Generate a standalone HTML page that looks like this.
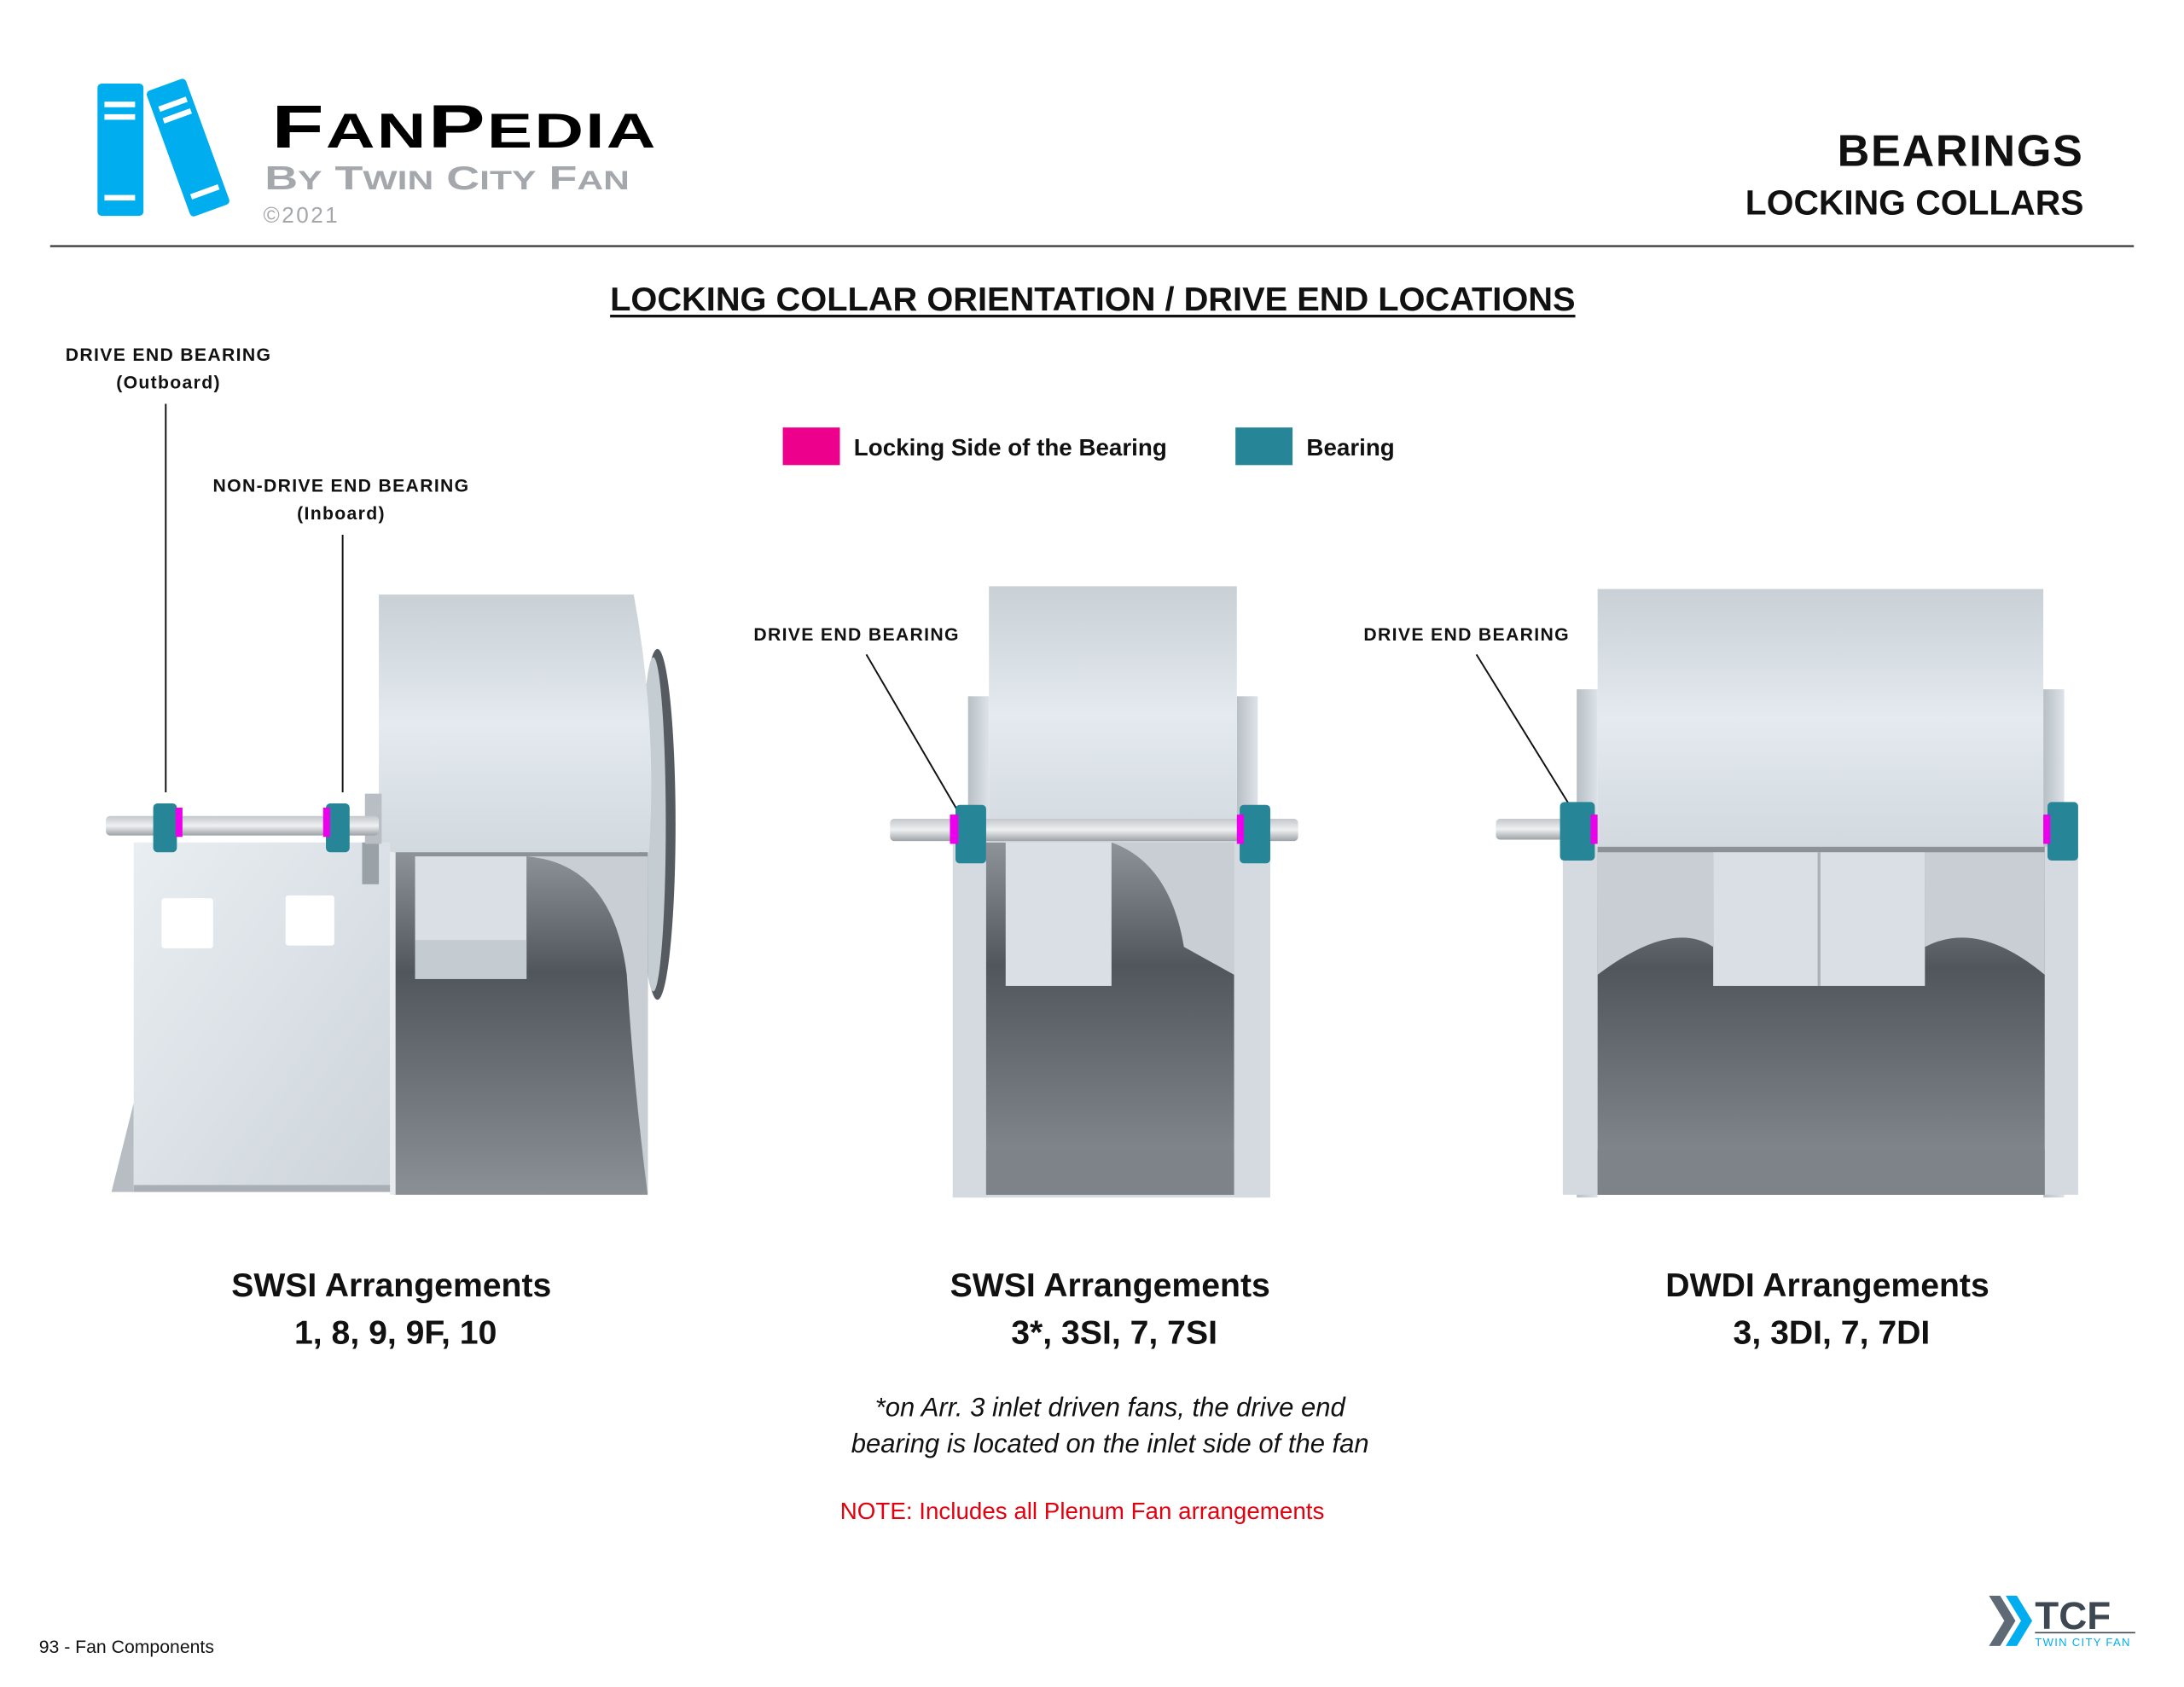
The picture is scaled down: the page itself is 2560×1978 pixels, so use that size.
<!DOCTYPE html>
<html><head><meta charset="utf-8"><style>
html,body{margin:0;padding:0;background:#fff;}
svg{display:block;}
text{font-family:"Liberation Sans",sans-serif;}
</style></head><body>
<svg width="2560" height="1978" viewBox="0 0 1568 1211.5" xmlns="http://www.w3.org/2000/svg">
<defs>
<linearGradient id="scroll" x1="0" y1="0" x2="0" y2="1"><stop offset="0" stop-color="#c9d0d6"/><stop offset="0.5" stop-color="#e4eaef"/><stop offset="1" stop-color="#d2d9df"/></linearGradient>
<linearGradient id="dark" x1="0" y1="0" x2="0" y2="1"><stop offset="0" stop-color="#8d9398"/><stop offset="0.35" stop-color="#50565b"/><stop offset="1" stop-color="#8a9095"/></linearGradient>
<linearGradient id="panel" x1="0" y1="0" x2="1" y2="1"><stop offset="0" stop-color="#e9eef2"/><stop offset="1" stop-color="#cdd4da"/></linearGradient>
<linearGradient id="shaft" x1="0" y1="0" x2="0" y2="1"><stop offset="0" stop-color="#c4c8cb"/><stop offset="0.5" stop-color="#eef0f1"/><stop offset="1" stop-color="#9da2a6"/></linearGradient>
<linearGradient id="side" x1="0" y1="0" x2="1" y2="0"><stop offset="0" stop-color="#b8bfc5"/><stop offset="1" stop-color="#dde3e8"/></linearGradient>
</defs>

<!-- Logo -->
<rect x="70" y="60" width="33" height="95" rx="3" fill="#00adee"/>
<rect x="75" y="73" width="22" height="4" fill="#fff"/><rect x="75" y="82" width="22" height="4" fill="#fff"/><rect x="75" y="140" width="22" height="4" fill="#fff"/>
<g transform="rotate(-20 135 106)">
<rect x="120" y="58" width="30" height="96" rx="3" fill="#00adee"/>
<rect x="125" y="71" width="21" height="4" fill="#fff"/><rect x="125" y="80" width="21" height="4" fill="#fff"/><rect x="125" y="138" width="21" height="4" fill="#fff"/>
</g>
<text x="195" y="106" font-size="44" font-weight="bold" fill="#000" letter-spacing="1" textLength="277" lengthAdjust="spacingAndGlyphs">F<tspan font-size="35">AN</tspan>P<tspan font-size="35">EDIA</tspan></text>
<text x="190" y="136" font-size="24" font-weight="bold" fill="#a4a7ab" textLength="262" lengthAdjust="spacingAndGlyphs">B<tspan font-size="19">Y</tspan> T<tspan font-size="19">WIN</tspan> C<tspan font-size="19">ITY</tspan> F<tspan font-size="19">AN</tspan></text>
<text x="189" y="160" font-size="16" fill="#a4a7ab" letter-spacing="1.5">©2021</text>

<text x="1496" y="119" font-size="32" font-weight="bold" text-anchor="end" fill="#111" letter-spacing="1">BEARINGS</text>
<text x="1496" y="154" font-size="25" font-weight="bold" text-anchor="end" fill="#111">LOCKING COLLARS</text>
<rect x="36" y="176" width="1496" height="1.5" fill="#444"/>

<text x="438" y="223" font-size="24" font-weight="bold" fill="#111" textLength="693" lengthAdjust="spacingAndGlyphs">LOCKING COLLAR ORIENTATION / DRIVE END LOCATIONS</text>
<rect x="438" y="226" width="693" height="2" fill="#111"/>

<!-- legend -->
<rect x="562" y="307" width="41" height="27" fill="#ec008c"/>
<text x="613" y="327" font-size="17" font-weight="bold" fill="#111">Locking Side of the Bearing</text>
<rect x="887" y="307" width="41" height="27" fill="#268596"/>
<text x="938" y="327" font-size="17" font-weight="bold" fill="#111">Bearing</text>

<!-- labels -->
<g font-size="13" font-weight="bold" fill="#111" text-anchor="middle" letter-spacing="0.8">
<text x="121" y="259">DRIVE END BEARING</text>
<text x="121" y="279">(Outboard)</text>
<text x="245" y="353">NON-DRIVE END BEARING</text>
<text x="245" y="373">(Inboard)</text>
<text x="615" y="460">DRIVE END BEARING</text>
<text x="1053" y="460">DRIVE END BEARING</text>
</g>
<line x1="119" y1="290" x2="119" y2="569" stroke="#111" stroke-width="1.2"/>
<line x1="246" y1="384" x2="246" y2="569" stroke="#111" stroke-width="1.2"/>
<line x1="622" y1="470" x2="688" y2="583" stroke="#111" stroke-width="1.2"/>
<line x1="1060" y1="470" x2="1128" y2="580" stroke="#111" stroke-width="1.2"/>

<!-- FAN 1 -->
<ellipse cx="472" cy="592" rx="13" ry="126" fill="#555b60"/>
<ellipse cx="469" cy="592" rx="9" ry="120" fill="#c5ccd2"/>
<path d="M272 427 L455 427 Q472 520 466 612 L272 612 Z" fill="url(#scroll)"/>
<rect x="283" y="612" width="182" height="246" fill="url(#dark)"/>
<path d="M378 615 Q440 620 450 700 Q455 780 465 858 L465 615 Z" fill="#c8ced3"/>
<rect x="298" y="615" width="80" height="88" fill="#d9dfe4"/>
<rect x="298" y="675" width="80" height="28" fill="#c4cbd1"/>
<rect x="280" y="612" width="4" height="246" fill="#e8ecef"/>
<polygon points="80,856 96,792 96,856" fill="#b7bdc2"/>
<rect x="96" y="605" width="184" height="251" fill="url(#panel)"/>
<rect x="96" y="851" width="184" height="5" fill="#a9afb4"/>
<rect x="116" y="645" width="37" height="36" rx="2" fill="#fff"/>
<rect x="205" y="643" width="35" height="36" rx="2" fill="#fff"/>
<rect x="260" y="605" width="12" height="30" fill="#9aa1a7"/>
<rect x="262" y="570" width="12" height="36" fill="#b8bec3"/>
<rect x="76" y="586" width="196" height="14" rx="3" fill="url(#shaft)"/>
<rect x="110" y="577" width="17" height="35" rx="3" fill="#268596"/>
<rect x="126" y="580" width="5" height="21" fill="#ec00ec"/>
<rect x="234" y="577" width="17" height="35" rx="3" fill="#268596"/>
<rect x="232" y="580" width="5" height="21" fill="#ec00ec"/>

<!-- FAN 2 -->
<rect x="695" y="500" width="15" height="360" fill="url(#side)"/>
<rect x="888" y="500" width="15" height="360" fill="url(#side)"/>
<rect x="684" y="605" width="228" height="255" fill="#d4dadf"/>
<rect x="708" y="605" width="178" height="253" fill="url(#dark)"/>
<path d="M798 605 Q840 620 850 680 L886 700 L886 605 Z" fill="#c8ced3"/>
<rect x="722" y="605" width="76" height="103" fill="#d9dfe4"/>
<rect x="708" y="826" width="178" height="32" fill="#7d8388"/>
<rect x="710" y="421" width="178" height="184" fill="url(#scroll)"/>
<rect x="639" y="588" width="293" height="16" rx="3" fill="url(#shaft)"/>
<rect x="686" y="578" width="22" height="42" rx="3" fill="#268596"/>
<rect x="682" y="585" width="6" height="21" fill="#ec00ec"/>
<rect x="890" y="578" width="22" height="42" rx="3" fill="#268596"/>
<rect x="888" y="585" width="5" height="21" fill="#ec00ec"/>

<!-- FAN 3 -->
<rect x="1132" y="495" width="15" height="365" fill="url(#side)"/>
<rect x="1467" y="495" width="15" height="365" fill="url(#side)"/>
<rect x="1122" y="608" width="370" height="250" fill="#d4dadf"/>
<rect x="1147" y="608" width="321" height="250" fill="url(#dark)"/>
<path d="M1147 700 Q1200 660 1230 680 L1230 612 L1147 612 Z" fill="#c8ced3"/>
<path d="M1468 700 Q1420 660 1382 680 L1382 612 L1468 612 Z" fill="#c8ced3"/>
<rect x="1230" y="612" width="152" height="96" fill="#d9dfe4"/>
<rect x="1305" y="612" width="2" height="96" fill="#aab0b5"/>
<rect x="1147" y="826" width="321" height="32" fill="#7d8388"/>
<rect x="1147" y="423" width="320" height="185" fill="url(#scroll)"/>
<rect x="1074" y="588" width="50" height="15" rx="3" fill="url(#shaft)"/>
<rect x="1120" y="576" width="25" height="42" rx="3" fill="#268596"/>
<rect x="1142" y="585" width="5" height="21" fill="#ec00ec"/>
<rect x="1470" y="576" width="22" height="42" rx="3" fill="#268596"/>
<rect x="1467" y="585" width="5" height="21" fill="#ec00ec"/>

<!-- captions -->
<g font-size="24" font-weight="bold" fill="#111" text-anchor="middle">
<text x="281" y="931">SWSI Arrangements</text><text x="284" y="965">1, 8, 9, 9F, 10</text>
<text x="797" y="931">SWSI Arrangements</text><text x="800" y="965">3*, 3SI, 7, 7SI</text>
<text x="1312" y="931">DWDI Arrangements</text><text x="1315" y="965">3, 3DI, 7, 7DI</text>
</g>
<g font-size="19" font-style="italic" fill="#111" text-anchor="middle">
<text x="797" y="1017">*on Arr. 3 inlet driven fans, the drive end</text>
<text x="797" y="1043">bearing is located on the inlet side of the fan</text>
</g>
<text x="777" y="1091" font-size="17" fill="#e3000f" text-anchor="middle">NOTE: Includes all Plenum Fan arrangements</text>

<text x="28" y="1187" font-size="13" fill="#111">93 - Fan Components</text>
<polygon points="1428,1146 1436,1146 1447,1164 1436,1182 1428,1182 1439,1164" fill="#5e6a75"/>
<polygon points="1440,1146 1448,1146 1459,1164 1448,1182 1440,1182 1451,1164" fill="#00adee"/>
<text x="1461" y="1170" font-size="28" font-weight="bold" fill="#3d4852">TCF</text>
<rect x="1461" y="1172" width="72" height="1" fill="#3d4852"/>
<text x="1461" y="1182" font-size="8" fill="#00adee" letter-spacing="0.8">TWIN CITY FAN</text>
</svg>
</body></html>
